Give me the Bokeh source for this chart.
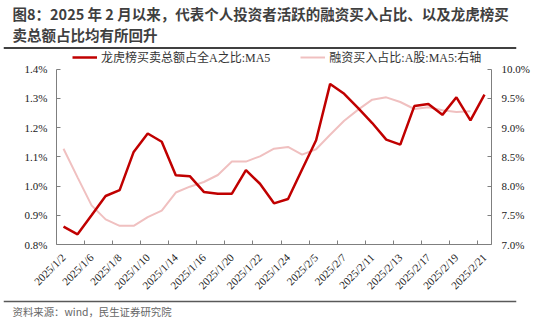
import math
from bokeh.plotting import figure
from bokeh.layouts import column
from bokeh.models import (Range1d, LinearAxis, FixedTicker, PrintfTickFormatter,
                          CustomJSTickFormatter, Legend, LegendItem, Label, Span)
from bokeh.embed import file_html
from bokeh.resources import INLINE

# ---------------- data ----------------
dates = ["2025/1/2", "2025/1/3", "2025/1/6", "2025/1/7", "2025/1/8", "2025/1/9",
         "2025/1/10", "2025/1/13", "2025/1/14", "2025/1/15", "2025/1/16", "2025/1/17",
         "2025/1/20", "2025/1/21", "2025/1/22", "2025/1/23", "2025/1/24", "2025/1/27",
         "2025/2/5", "2025/2/6", "2025/2/7", "2025/2/10", "2025/2/11", "2025/2/12",
         "2025/2/13", "2025/2/14", "2025/2/17", "2025/2/18", "2025/2/19", "2025/2/20",
         "2025/2/21"]
# 龙虎榜买卖总额占全A之比:MA5 (%, left axis)
lhb_ratio = [0.861, 0.835, 0.900, 0.966, 0.986, 1.117, 1.180, 1.152, 1.037, 1.034,
             0.980, 0.974, 0.974, 1.055, 1.008, 0.941, 0.956, 1.057, 1.157, 1.350,
             1.316, 1.267, 1.216, 1.159, 1.142, 1.274, 1.281, 1.244, 1.304, 1.225,
             1.313]
# 融资买入占比:A股:MA5 (%, right axis)
margin_ratio = [8.64, 8.15, 7.67, 7.43, 7.32, 7.32, 7.47, 7.58, 7.89, 7.99,
                8.07, 8.19, 8.42, 8.42, 8.51, 8.64, 8.67, 8.54, 8.63, 8.88,
                9.12, 9.31, 9.48, 9.52, 9.44, 9.32, 9.35, 9.30, 9.27, 9.28]
left_ticks = [0.8, 0.9, 1.0, 1.1, 1.2, 1.3, 1.4]
right_ticks = [7.0, 7.5, 8.0, 8.5, 9.0, 9.5, 10.0]
series_names = ["龙虎榜买卖总额占全A之比:MA5", "融资买入占比:A股:MA5:右轴"]
title_lines = ["图8：2025 年 2 月以来，代表个人投资者活跃的融资买入占比、以及龙虎榜买",
               "卖总额占比均有所回升"]
source_text = "资料来源：wind，民生证券研究院"

idx = list(range(len(dates)))
label_idx = idx[::2]
boundary_ticks = [i - 0.5 for i in idx[2::2]]

SERIF = "Liberation Serif, Noto Sans CJK SC"
SANS = "Noto Sans CJK SC"
AXIS_COLOR = "#7F7F7F"
W, H = 550, 323

# ---------------- layout geometry (canvas pixels) ----------------
TOP_H = 49                      # title block: canvas 0..49
BOT_Y = 298                     # source block: canvas 298..323
MAIN_H = BOT_Y - TOP_H
BOT_H = H - BOT_Y
PLOT_L, PLOT_R = 56, 491
AXIS_TOP, AXIS_BOT = 69 - TOP_H, 246 - TOP_H   # inside main block
frame_h = AXIS_BOT
scale_l = (left_ticks[-1] - left_ticks[0]) / (AXIS_BOT - AXIS_TOP)
scale_r = (right_ticks[-1] - right_ticks[0]) / (AXIS_BOT - AXIS_TOP)
RULE_L, RULE_R = 3, 516


def block(h):
    # frame spans the rule width; data x == canvas x, data y == pixels up from block bottom
    f = figure(width=W, height=h, output_backend="svg", toolbar_location=None,
               x_range=Range1d(RULE_L, RULE_R), y_range=Range1d(0, h),
               x_axis_type=None, y_axis_type=None, min_border=0,
               min_border_left=RULE_L, min_border_right=W - RULE_R,
               min_border_top=0, min_border_bottom=0)
    f.outline_line_color = None
    f.background_fill_color = "white"
    f.border_fill_color = "white"
    return f


# ---------------- title block ----------------
top = block(TOP_H)
for txt, cy in zip(title_lines, (13, 33.5)):
    top.add_layout(Label(x=12, y=TOP_H - cy, text=txt, text_font=SANS, text_font_size="14.5px",
                         text_font_style="bold", text_color="#3F3F3F",
                         text_baseline="middle", text_align="left"))
top.add_layout(Span(location=1.5, dimension="width", line_color="#404040", line_width=2))

# ---------------- main chart ----------------
p = figure(width=W, height=MAIN_H, output_backend="svg", toolbar_location=None,
           x_range=Range1d(-0.5, len(dates) - 0.5),
           y_range=Range1d(left_ticks[0], left_ticks[0] + scale_l * frame_h),
           x_axis_type=None, y_axis_type=None,
           min_border_left=PLOT_L, min_border_right=W - PLOT_R,
           min_border_top=0, min_border_bottom=MAIN_H - AXIS_BOT)
p.outline_line_color = None
p.background_fill_color = "white"
p.border_fill_color = "white"
p.extra_y_ranges = {"right": Range1d(right_ticks[0], right_ticks[0] + scale_r * frame_h)}

ly = LinearAxis(ticker=FixedTicker(ticks=left_ticks), formatter=PrintfTickFormatter(format="%.1f%%"),
                bounds=(left_ticks[0], left_ticks[-1]))
ry = LinearAxis(y_range_name="right", ticker=FixedTicker(ticks=right_ticks),
                formatter=PrintfTickFormatter(format="%.1f%%"),
                bounds=(right_ticks[0], right_ticks[-1]))
for ax, standoff in ((ly, 9), (ry, 10)):
    ax.axis_line_color = AXIS_COLOR
    ax.major_tick_line_color = AXIS_COLOR
    ax.major_tick_in = 4
    ax.major_tick_out = 0
    ax.minor_tick_line_color = None
    ax.major_label_text_font = SERIF
    ax.major_label_text_font_size = "11px"
    ax.major_label_text_color = "#1a1a1a"
    ax.major_label_standoff = standoff
p.add_layout(ly, "left")
p.add_layout(ry, "right")

bx = LinearAxis(ticker=FixedTicker(ticks=boundary_ticks), formatter=CustomJSTickFormatter(code="return ''"))
bx.axis_line_color = AXIS_COLOR
bx.major_tick_line_color = AXIS_COLOR
bx.major_tick_in = 4
bx.major_tick_out = 0
bx.minor_tick_line_color = None
bx.major_label_standoff = 0
bx.major_label_text_font_size = "1px"
p.add_layout(bx, "below")

lx = LinearAxis(ticker=FixedTicker(ticks=label_idx),
                major_label_overrides={i: dates[i] for i in label_idx})
lx.axis_line_color = None
lx.major_tick_line_color = None
lx.minor_tick_line_color = None
lx.major_label_orientation = math.pi / 4
lx.major_label_text_font = SERIF
lx.major_label_text_font_size = "11px"
lx.major_label_text_color = "#1a1a1a"
lx.major_label_standoff = 5
p.add_layout(lx, "below")

r2 = p.line(idx[:len(margin_ratio)], margin_ratio, y_range_name="right",
            line_color="#F0C0C0", line_width=2)
r1 = p.line(idx, lhb_ratio, line_color="#C00000", line_width=2.5)

legend = Legend(items=[LegendItem(label=series_names[0], renderers=[r1]),
                       LegendItem(label=series_names[1], renderers=[r2])],
                orientation="horizontal", location=(16, frame_h - 19))
legend.label_text_font = SERIF
legend.label_text_font_size = "12px"
legend.label_text_color = "#333333"
legend.glyph_width = 25
legend.glyph_height = 18
legend.label_height = 18
legend.label_standoff = 4
legend.spacing = 30
legend.padding = 0
legend.margin = 0
legend.border_line_color = None
legend.background_fill_alpha = 0
p.add_layout(legend, "center")

# ---------------- source block ----------------
bot = block(BOT_H)
bot.add_layout(Span(location=BOT_H - (301 - BOT_Y), dimension="width",
                    line_color="#595959", line_width=1.6))
bot.add_layout(Label(x=12, y=BOT_H - (311 - BOT_Y), text=source_text, text_font=SANS,
                     text_font_size="10.4px", text_color="#666666",
                     text_baseline="middle", text_align="left"))

# nest the text blocks so their frames are not aligned with the chart frame
layout = column(column(top), p, column(bot), spacing=0)
open("out.html", "w").write(file_html(layout, INLINE))
